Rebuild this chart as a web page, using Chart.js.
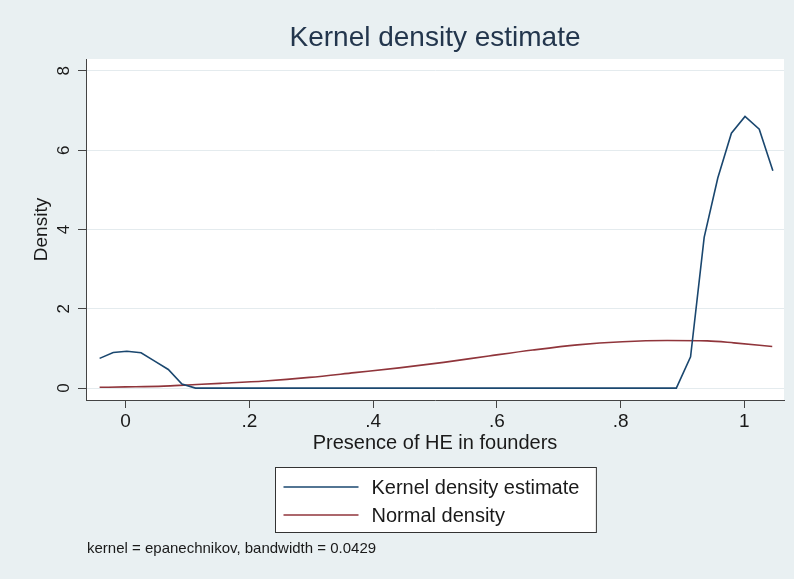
<!DOCTYPE html>
<html>
<head>
<meta charset="utf-8">
<script src="https://cdn.jsdelivr.net/npm/chart.js@4/dist/chart.umd.min.js"></script>
<style>
  body { margin: 0; background: #e9f0f2; }
  canvas { display: block; }
</style>
</head>
<body>
<canvas id="kdeChart" width="794" height="579"></canvas>
<script>
// kernel density estimate (epanechnikov)
const kdeX = [-0.042, -0.020, 0.002, 0.025, 0.047, 0.069, 0.091, 0.113, 0.890, 0.913, 0.935, 0.957, 0.979, 1.001, 1.024, 1.046];
const kdeY = [0.75, 0.90, 0.93, 0.89, 0.68, 0.47, 0.10, 0.00, 0.00, 0.79, 3.80, 5.30, 6.43, 6.85, 6.53, 5.48];

// normal density overlay
const normX = [-0.042, 0.000, 0.062, 0.100, 0.153, 0.225, 0.297, 0.370, 0.442, 0.514, 0.587, 0.658, 0.730, 0.803, 0.875, 0.940, 0.983, 1.045];
const normY = [0.02, 0.03, 0.05, 0.08, 0.12, 0.18, 0.27, 0.39, 0.51, 0.65, 0.81, 0.96, 1.09, 1.17, 1.20, 1.19, 1.14, 1.05];

const xTicks = [0, 0.2, 0.4, 0.6, 0.8, 1];
const xTickLabels = ['0', '.2', '.4', '.6', '.8', '1'];
const yTicks = [0, 2, 4, 6, 8];
const yTickLabels = ['0', '2', '4', '6', '8'];

const seriesLabels = ['Kernel density estimate', 'Normal density'];
const noteText = 'kernel = epanechnikov, bandwidth = 0.0429';

const FONT = "'Liberation Sans', Arial, sans-serif";
const BG = '#e9f0f2';
const AXIS = '#444444';

function toPoints(xs, ys) {
  return xs.map((x, i) => ({ x: x, y: ys[i] }));
}

// grey page + white plot region, stata style
const backgroundPlugin = {
  id: 'stataBackground',
  beforeDraw(chart) {
    const { ctx, chartArea } = chart;
    ctx.save();
    ctx.fillStyle = BG;
    ctx.fillRect(0, 0, chart.width, chart.height);
    ctx.fillStyle = '#ffffff';
    ctx.fillRect(chartArea.left, chartArea.top, chartArea.right - chartArea.left, chartArea.bottom - chartArea.top);
    ctx.restore();
  }
};

// boxed legend stacked in one column, plus the kernel note
const legendBoxPlugin = {
  id: 'legendBox',
  afterDraw(chart) {
    const { ctx, chartArea } = chart;
    const sets = chart.data.datasets;
    ctx.save();
    ctx.font = '20px ' + FONT;
    let textW = 0;
    sets.forEach(ds => { textW = Math.max(textW, ctx.measureText(ds.label).width); });
    const sampleW = 75, padL = 8, gap = 13, padR = 17, rowH = 28;
    const boxW = padL + sampleW + gap + textW + padR;
    const boxH = 65;
    const cx = (chartArea.left + chartArea.right) / 2;
    const left = Math.round(cx - boxW / 2) + 0.5;
    const top = 467.5;

    ctx.fillStyle = '#ffffff';
    ctx.fillRect(left, top, boxW, boxH);
    ctx.strokeStyle = '#333333';
    ctx.lineWidth = 1;
    ctx.strokeRect(left, top, boxW, boxH);

    sets.forEach((ds, i) => {
      const y = top + 19.5 + i * rowH;
      ctx.strokeStyle = ds.borderColor;
      ctx.lineWidth = ds.borderWidth;
      ctx.beginPath();
      ctx.moveTo(left + padL, y);
      ctx.lineTo(left + padL + sampleW, y);
      ctx.stroke();
      ctx.fillStyle = '#1a1a1a';
      ctx.textAlign = 'left';
      ctx.textBaseline = 'middle';
      ctx.fillText(ds.label, left + padL + sampleW + gap, y + 1);
    });

    ctx.font = '15px ' + FONT;
    ctx.fillStyle = '#1a1a1a';
    ctx.textAlign = 'left';
    ctx.textBaseline = 'middle';
    ctx.fillText(noteText, chartArea.left + 1, 549);
    ctx.restore();
  }
};

const ctx = document.getElementById('kdeChart').getContext('2d');

const chart = new Chart(ctx, {
  type: 'line',
  data: {
    datasets: [
      {
        label: seriesLabels[0],
        data: toPoints(kdeX, kdeY),
        borderColor: '#1a476f',
        borderWidth: 1.6,
        pointRadius: 0,
        tension: 0,
        fill: false
      },
      {
        label: seriesLabels[1],
        data: toPoints(normX, normY),
        borderColor: '#90353b',
        borderWidth: 1.6,
        pointRadius: 0,
        cubicInterpolationMode: 'monotone',
        fill: false
      }
    ]
  },
  options: {
    responsive: false,
    animation: false,
    devicePixelRatio: 1,
    layout: {
      padding: { left: 0, right: 10, top: 0, bottom: 124 }
    },
    plugins: {
      legend: { display: false },
      tooltip: { enabled: false },
      title: {
        display: true,
        fullSize: false,
        text: 'Kernel density estimate',
        color: '#23364d',
        font: { family: FONT, size: 28, weight: 'normal' },
        padding: { top: 21, bottom: 4.4 }
      }
    },
    scales: {
      x: {
        type: 'linear',
        min: -0.064,
        max: 1.064,
        afterBuildTicks: s => { s.ticks = xTicks.map(v => ({ value: v })); },
        afterFit: s => { s.height = 55; },
        ticks: {
          autoSkip: false,
          minRotation: 0,
          maxRotation: 0,
          padding: 2,
          color: '#1a1a1a',
          font: { family: FONT, size: 19 },
          callback: (v, i) => xTickLabels[i]
        },
        grid: { drawOnChartArea: false, tickColor: AXIS, tickLength: 8 },
        border: { color: AXIS, width: 1 },
        title: {
          display: true,
          text: 'Presence of HE in founders',
          color: '#1a1a1a',
          font: { family: FONT, size: 20 },
          padding: { top: 0, bottom: 0 }
        }
      },
      y: {
        type: 'linear',
        min: -0.3,
        max: 8.3,
        afterBuildTicks: s => { s.ticks = yTicks.map(v => ({ value: v })); },
        afterFit: s => { s.width = 86; },
        ticks: {
          autoSkip: false,
          minRotation: 90,
          maxRotation: 90,
          crossAlign: 'center',
          padding: 9,
          color: '#1a1a1a',
          font: { family: FONT, size: 17 },
          callback: (v, i) => yTickLabels[i]
        },
        grid: { color: '#e4ebee', tickColor: AXIS, tickLength: 8 },
        border: { color: AXIS, width: 1 },
        title: {
          display: true,
          text: 'Density',
          color: '#1a1a1a',
          font: { family: FONT, size: 19 },
          padding: { top: 30, bottom: 0 }
        }
      }
    }
  },
  plugins: [backgroundPlugin, legendBoxPlugin]
});
</script>
</body>
</html>
